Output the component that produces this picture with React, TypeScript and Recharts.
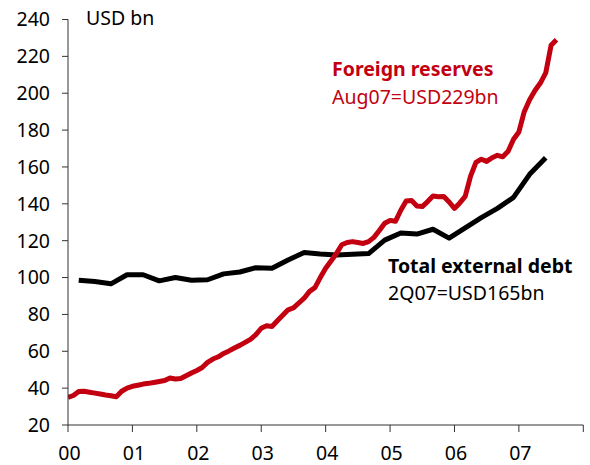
import React from "react";
import { LineChart, Line, XAxis, YAxis, Customized } from "recharts";

// Foreign reserves, monthly, Jan 2000 .. Aug 2007 (USD bn)
const reserveValues: number[] = [
  35, 36, 38.2, 38.3, 37.8, 37.3, 36.8, 36.3, 35.9, 35.3, 38.3, 40,
  41, 41.6, 42.2, 42.6, 43.1, 43.6, 44.1, 45.5, 45, 45.2, 46.7, 48.2,
  49.6, 51.2, 54, 55.8, 57, 58.8, 60.2, 61.8, 63.2, 64.8, 66.5, 69,
  72.5, 73.8, 73.5, 76.5, 79.5, 82.5, 83.5, 86.2, 88.8, 92.5, 94.5, 100,
  105, 109, 113, 117.8, 119, 119.5, 119, 118.5, 119.5, 121.8, 125.5, 129.5,
  131, 130.5, 136.5, 141.5, 141.8, 138.8, 138.5, 141.2, 144.2, 143.8, 144, 141,
  137.5, 140.5, 144, 155, 162.5, 164.2, 163, 165, 166.3, 165.5, 168.5, 175,
  179, 190, 196.5, 201.5, 205.5, 211, 226, 229,
];

// Total external debt, quarterly, 1Q00 .. 2Q07 (USD bn)
const debtValues: number[] = [
  98.5, 97.8, 96.6, 101.5, 101.5, 98.2, 100, 98.5,
  98.8, 102, 103, 105.3, 105, 109.5, 113.6, 112.8,
  112.2, 112.6, 113, 120.3, 124.2, 123.6, 126.2, 121.4,
  127, 132.5, 137.5, 143.5, 156, 165,
];

const yearTicks: number[] = [0, 1, 2, 3, 4, 5, 6, 7, 8];
const yearLabels: string[] = ["00", "01", "02", "03", "04", "05", "06", "07", ""];
const valueTicks: number[] = [20, 40, 60, 80, 100, 120, 140, 160, 180, 200, 220, 240];

const reserveData = reserveValues.map((v, i) => ({ x: i / 12, reserves: v }));
const debtData = debtValues.map((v, i) => ({ x: (3 * i + 2) / 12, debt: v }));

const RED = "#c20010";
const FONT = "'Noto Sans', sans-serif";
const FS = 19.5;

const Annotations = () => (
  <g fontFamily={FONT} fontSize={FS}>
    <text x={86} y={25} fill="#000">USD bn</text>
    <text x={332} y={76} fill={RED} fontWeight="bold">Foreign reserves</text>
    <text x={332} y={104} fill={RED}>Aug07=USD229bn</text>
    <text x={388} y={273} fill="#000" fontWeight="bold">Total external debt</text>
    <text x={388} y={300} fill="#000">2Q07=USD165bn</text>
  </g>
);

export default function App() {
  return (
    <div style={{ position: "absolute", left: 0, top: 0, background: "#fff" }}>
      <LineChart
        width={590}
        height={465}
        margin={{ top: 19.5, right: 6.7, bottom: 0, left: 0 }}
      >
        <XAxis
          type="number"
          dataKey="x"
          domain={[0, 8]}
          ticks={yearTicks}
          tickFormatter={(v: number) => yearLabels[Math.round(v)]}
          interval={0}
          height={40}
          tickSize={7}
          tickMargin={14}
          axisLine={{ stroke: "#333", strokeWidth: 1 }}
          tickLine={{ stroke: "#333", strokeWidth: 1 }}
          tick={{ fill: "#000", fontSize: FS, fontFamily: FONT, dx: 1.5 }}
          allowDataOverflow
        />
        <YAxis
          type="number"
          domain={[20, 240]}
          ticks={valueTicks}
          interval={0}
          width={68}
          tickSize={6}
          tickMargin={12}
          axisLine={{ stroke: "#333", strokeWidth: 1 }}
          tickLine={{ stroke: "#333", strokeWidth: 1 }}
          tick={{ fill: "#000", fontSize: FS, fontFamily: FONT }}
          allowDataOverflow
        />
        <Line
          data={debtData}
          dataKey="debt"
          stroke="#000"
          strokeWidth={5}
          dot={false}
          activeDot={false}
          strokeLinejoin="round"
          isAnimationActive={false}
          type="linear"
        />
        <Line
          data={reserveData}
          dataKey="reserves"
          stroke={RED}
          strokeWidth={5}
          dot={false}
          activeDot={false}
          strokeLinejoin="round"
          isAnimationActive={false}
          type="linear"
        />
        <Customized component={Annotations} />
      </LineChart>
    </div>
  );
}
